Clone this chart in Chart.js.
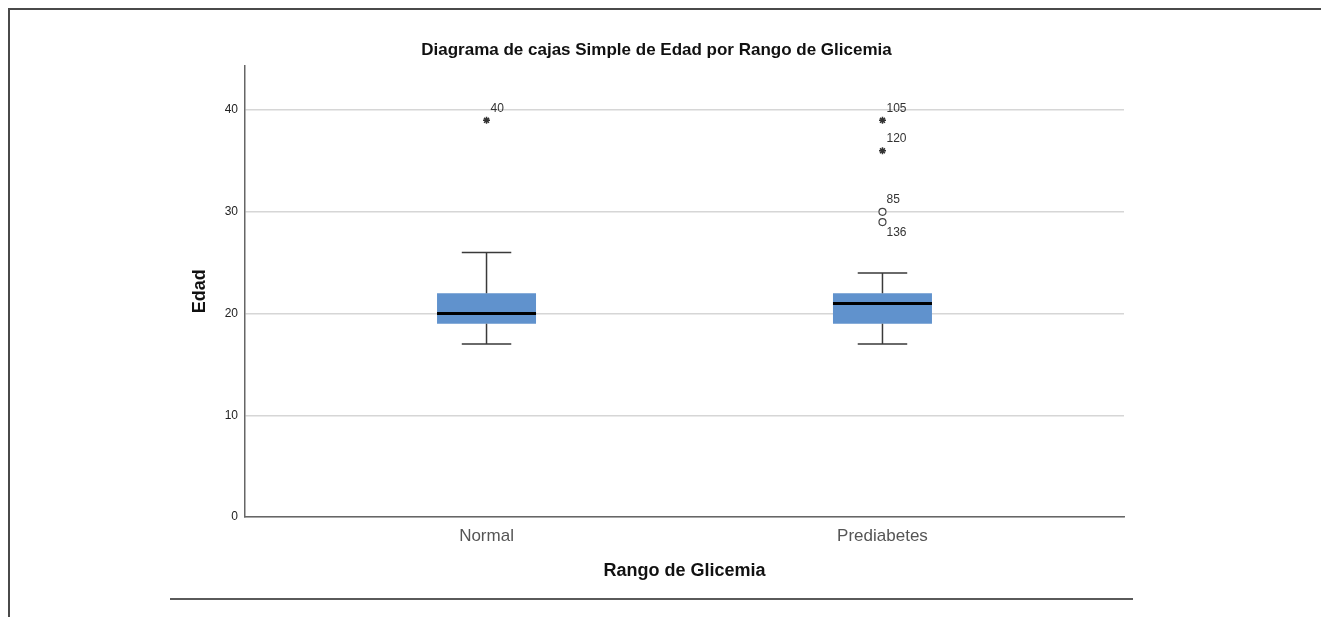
<!DOCTYPE html>
<html>
<head>
<meta charset="utf-8">
<script src="https://cdn.jsdelivr.net/npm/chart.js@4/dist/chart.umd.min.js"></script>
<style>
  body { margin: 0; background: #fff; }
  #wrap { position: relative; width: 1321px; height: 617px; }
  .rule { position: absolute; background: #4a4a4a; }
</style>
</head>
<body>
<div id="wrap">
  <canvas id="myChart" width="1321" height="617"></canvas>
  <div class="rule" style="left:8px; top:8px; width:2px; height:609px;"></div>
  <div class="rule" style="left:8px; top:8px; width:1313px; height:2px;"></div>
  <div class="rule" style="left:170px; top:598px; width:963px; height:2px; background:#5a5a5a;"></div>
</div>
<script>
// Rango de Glicemia -> resumen de Edad
const categories = ['Normal', 'Prediabetes'];
const whiskerLow = [17, 17];
const q1 = [19, 19];
const median = [20, 21];
const q3 = [22, 22];
const whiskerHigh = [26, 24];

// extremos (*) y atipicos (o), con su numero de caso
const extremeCat = [0, 1, 1];
const extremeValues = [39, 39, 36];
const extremeCases = ['40', '105', '120'];
const outlierCat = [1, 1];
const outlierValues = [30, 29];
const outlierCases = ['85', '136'];
const outlierLabelBelow = [false, true];

const yTicks = [0, 10, 20, 30, 40];

const boxPlugin = {
    id: 'boxParts',
    afterDatasetsDraw(chart) {
        const ctx = chart.ctx;
        const y = chart.scales.y;
        const bars = chart.getDatasetMeta(0).data;
        ctx.save();
        bars.forEach(function(bar, i) {
            const half = bar.width / 2;
            const cap = half / 2;
            ctx.strokeStyle = '#3a3a3a';
            ctx.lineWidth = 1.5;
            ctx.beginPath();
            ctx.moveTo(bar.x, y.getPixelForValue(q3[i]));
            ctx.lineTo(bar.x, y.getPixelForValue(whiskerHigh[i]));
            ctx.moveTo(bar.x - cap, y.getPixelForValue(whiskerHigh[i]));
            ctx.lineTo(bar.x + cap, y.getPixelForValue(whiskerHigh[i]));
            ctx.moveTo(bar.x, y.getPixelForValue(q1[i]));
            ctx.lineTo(bar.x, y.getPixelForValue(whiskerLow[i]));
            ctx.moveTo(bar.x - cap, y.getPixelForValue(whiskerLow[i]));
            ctx.lineTo(bar.x + cap, y.getPixelForValue(whiskerLow[i]));
            ctx.stroke();
            ctx.strokeStyle = '#000';
            ctx.lineWidth = 3;
            ctx.beginPath();
            ctx.moveTo(bar.x - half, y.getPixelForValue(median[i]));
            ctx.lineTo(bar.x + half, y.getPixelForValue(median[i]));
            ctx.stroke();
        });
        // numeros de caso
        ctx.font = '12px "Liberation Sans", Arial, sans-serif';
        ctx.fillStyle = '#333';
        ctx.textAlign = 'left';
        ctx.textBaseline = 'middle';
        chart.getDatasetMeta(1).data.forEach(function(pt, i) {
            ctx.fillText(extremeCases[i], pt.x + 4, pt.y - 12);
        });
        chart.getDatasetMeta(2).data.forEach(function(pt, i) {
            ctx.fillText(outlierCases[i], pt.x + 4, outlierLabelBelow[i] ? pt.y + 11 : pt.y - 12);
        });
        ctx.restore();
    }
};

const data = {
    datasets: [{
            type: 'bar',
            data: categories.map((c, i) => ({ x: i + 1, y: [q1[i], q3[i]] })),
            backgroundColor: '#6092cd',
            borderWidth: 0,
            categoryPercentage: 1,
            barPercentage: 0.25
        },
        {
            type: 'scatter',
            data: extremeValues.map((v, i) => ({ x: extremeCat[i] + 1, y: v })),
            pointStyle: 'star',
            pointRadius: 3.5,
            borderColor: '#333',
            borderWidth: 1.5,
            backgroundColor: '#333'
        },
        {
            type: 'scatter',
            data: outlierValues.map((v, i) => ({ x: outlierCat[i] + 1, y: v })),
            pointStyle: 'circle',
            pointRadius: 3.5,
            borderColor: '#444',
            borderWidth: 1.2,
            backgroundColor: '#fff'
        }
    ]
};

const config = {
    type: 'bar',
    data,
    plugins: [boxPlugin],
    options: {
        responsive: false,
        animation: false,
        layout: {
            padding: { left: 189, right: 197, top: 29, bottom: 35 }
        },
        plugins: {
            legend: { display: false },
            tooltip: { enabled: false },
            title: {
                display: true,
                text: 'Diagrama de cajas Simple de Edad por Rango de Glicemia',
                color: '#111',
                font: { family: '"Liberation Sans", Arial, sans-serif', size: 17, weight: 'bold' },
                padding: { top: 11, bottom: 5 }
            }
        },
        scales: {
            x: {
                type: 'linear',
                offset: false,
                min: 0.39,
                max: 2.61,
                afterFit(scale) { scale.height = 65; },
                afterBuildTicks(scale) {
                    scale.ticks = categories.map((c, i) => ({ value: i + 1 }));
                },
                grid: { display: false, drawTicks: false, offset: false },
                border: { display: true, color: '#666', width: 1.5 },
                ticks: {
                    padding: 9,
                    color: '#555',
                    font: { family: '"Liberation Sans", Arial, sans-serif', size: 17 },
                    callback: (v) => categories[v - 1]
                },
                title: {
                    display: true,
                    text: 'Rango de Glicemia',
                    color: '#111',
                    padding: 0,
                    font: { family: '"Liberation Sans", Arial, sans-serif', size: 18, weight: 'bold' }
                }
            },
            y: {
                min: 0,
                max: 44.4,
                afterFit(scale) { scale.width = 56; },
                afterBuildTicks(scale) {
                    scale.ticks = yTicks.map(v => ({ value: v }));
                },
                grid: { color: '#d6d6d6', lineWidth: 1.5, drawTicks: false },
                border: { display: true, color: '#666', width: 1.5 },
                ticks: {
                    padding: 7,
                    color: '#222',
                    font: { family: '"Liberation Sans", Arial, sans-serif', size: 12 }
                },
                title: {
                    display: true,
                    text: 'Edad',
                    color: '#111',
                    padding: 0,
                    font: { family: '"Liberation Sans", Arial, sans-serif', size: 18, weight: 'bold' }
                }
            }
        }
    }
};

var myChart = new Chart(document.getElementById('myChart'), config);
</script>
</body>
</html>
